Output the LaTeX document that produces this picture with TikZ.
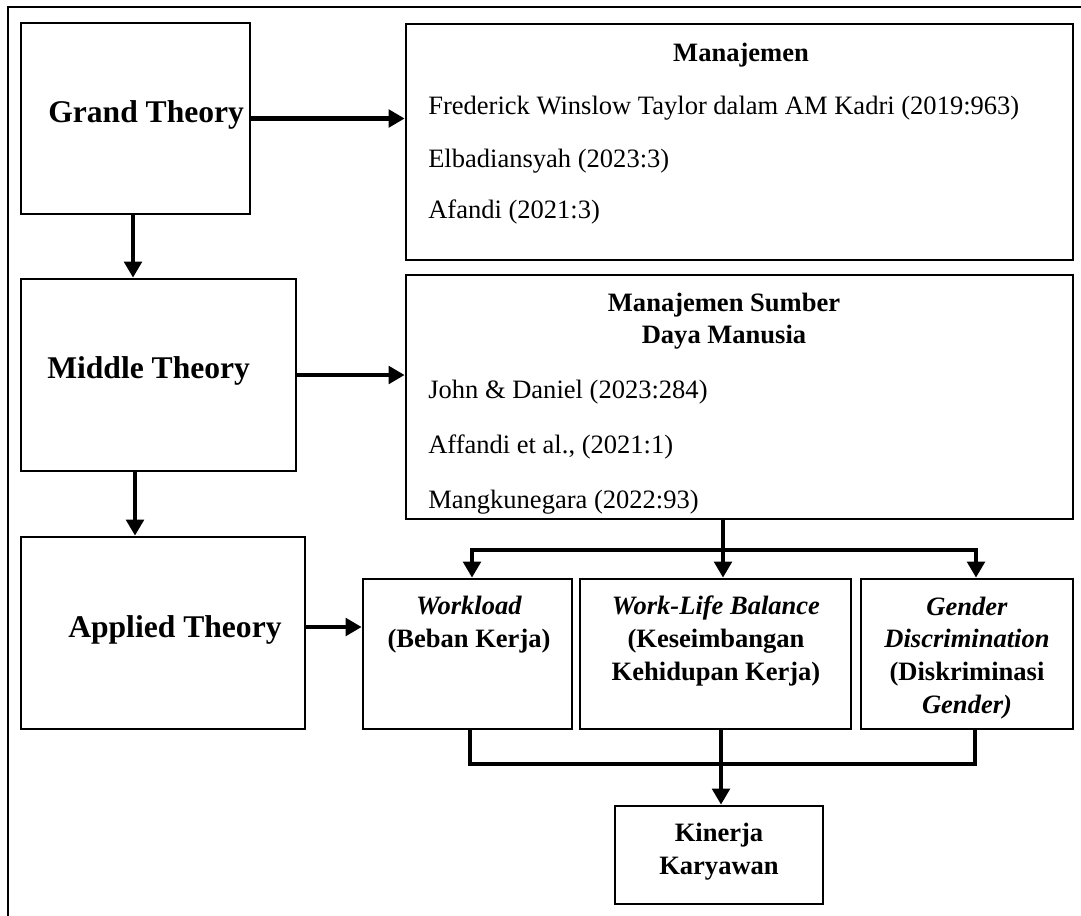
\documentclass[tikz,border=0pt]{standalone}
\usepackage{fontspec}
\setmainfont{Liberation Serif}
\usetikzlibrary{arrows.meta,fit}
\begin{document}
\begin{tikzpicture}[x=0.75pt,y=-0.75pt,
  box/.style={draw, line width=2pt, inner sep=0pt},
  conn/.style={line width=3.2pt},
  arr/.style={conn, -{Triangle[length=12pt,width=13pt]}},
  title/.style={font=\fontsize{23.7}{28}\selectfont\bfseries, anchor=base west, inner sep=0pt},
  ref/.style={font=\fontsize{19.9}{24}\selectfont, anchor=base west, inner sep=0pt},
  hdr/.style={font=\fontsize{19.9}{23.5}\selectfont\bfseries, anchor=base, inner sep=0pt, align=center},
  lbl/.style={font=\fontsize{19.9}{24.4}\selectfont\bfseries, anchor=base, inner sep=0pt, align=center}]
\useasboundingbox (0,0) rectangle (1081,915);
\clip (0,0) rectangle (1081,915);
\draw[line width=1.6pt] (8,7) rectangle (1100,930);

% boxes
\node[box, fit={(21,23)(250,214)}] (grand) {};
\node[box, fit={(21,279)(296,471)}] (middle) {};
\node[box, fit={(21,537)(305,729)}] (applied) {};
\node[box, fit={(406,24)(1073,260)}] (man) {};
\node[box, fit={(406,275)(1073,519)}] (msdm) {};
\node[box, fit={(363,579)(572,729)}] (work) {};
\node[box, fit={(580,579)(851,729)}] (wlb) {};
\node[box, fit={(861,579)(1073,729)}] (gender) {};
\node[box, fit={(615,806)(823,904)}] (kin) {};

% texts (multi-line nodes: base = last line)
\node[title] (tg) at (48,122) {Grand Theory};
\node[title] (tm) at (47,378) {Middle Theory};
\node[title] (ta) at (68,637) {Applied Theory};

\node[hdr] (mh) at (741,61) {Manajemen};
\node[ref] (r1) at (428,114) {Frederick Winslow Taylor dalam AM Kadri (2019:963)};
\node[ref] (r2) at (428,167) {Elbadiansyah (2023:3)};
\node[ref] (r3) at (428,218) {Afandi (2021:3)};

\node[hdr] (sh) at (724,343) {Manajemen Sumber\\Daya Manusia};
\node[ref] (s1) at (428,398) {John \& Daniel (2023:284)};
\node[ref] (s2) at (428,453) {Affandi et al., (2021:1)};
\node[ref] (s3) at (428,508) {Mangkunegara (2022:93)};

\node[lbl] (lw) at (469,647) {\textit{Workload}\\(Beban Kerja)};
\node[lbl] (ll) at (716,680) {\textit{Work-Life Balance}\\(Keseimbangan\\Kehidupan Kerja)};
\node[lbl] (lg) at (967,713) {\textit{Gender}\\\textit{Discrimination}\\(Diskriminasi\\\textit{Gender)}};
\node[lbl] (lk) at (719,874) {Kinerja\\Karyawan};

% helper coordinates
\coordinate (xg) at (133,0);
\coordinate (xa) at (135,0);
\coordinate (yA) at (0,627);
\coordinate (bar) at (723,550);
\coordinate (t1) at (472,550);
\coordinate (t3) at (976,550);
\coordinate (b1) at (721,764);
\coordinate (xw) at (470,0);
\coordinate (xr) at (975,0);

% connectors
\draw[arr] (grand.east) -- (grand.east -| man.west);
\draw[arr] (middle.east) -- (middle.east -| msdm.west);
\draw[arr] (applied.east |- yA) -- (work.west |- yA);
\draw[arr] (grand.south -| xg) -- (middle.north -| xg);
\draw[arr] (middle.south -| xa) -- (applied.north -| xa);

\draw[arr] (msdm.south -| bar) -- (wlb.north -| bar);
\draw[arr] (bar) -| (work.north -| t1);
\draw[arr] (bar) -| (gender.north -| t3);

\draw[conn] (work.south -| xw) |- (b1) -| (gender.south -| xr);
\draw[arr] (wlb.south -| b1) -- (kin.north -| b1);
\end{tikzpicture}
\end{document}
